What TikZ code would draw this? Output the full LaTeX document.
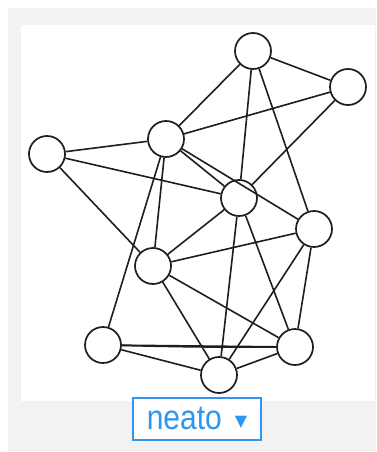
\documentclass[tikz,border=0pt]{standalone}
\usepackage{fontspec}
\setsansfont{Liberation Sans}
\newfontfamily\arrowfont{DejaVu Sans}
\usepackage{tikz}
\usetikzlibrary{positioning}
\definecolor{panelGray}{RGB}{242,242,242}
\definecolor{pickBlue}{RGB}{45,150,240}
\definecolor{edgeDark}{RGB}{30,30,30}

\begin{document}
\begin{tikzpicture}[
    x=1pt, y=-1pt,
    vertex/.style={circle, draw=edgeDark, line width=1.7pt, minimum size=36pt, inner sep=0pt},
    link/.style={draw=edgeDark, line width=1.6pt},
    picker/.style={rectangle, draw=pickBlue, line width=1.3pt, fill=white, minimum width=128pt, minimum height=42pt, inner sep=0pt, text=pickBlue, font=\sffamily\fontsize{30}{30}\selectfont}
]
    \useasboundingbox (0,0) rectangle (376,452);
    \fill[panelGray] (8,8) rectangle (376,451);
    \fill[white] (21,25) rectangle (375,401);

    \node[vertex] (top) at (253,51) {};
    \node[vertex] (topright) at (348,87) {};
    \node[vertex] (left) at (47,154) {};
    \node[vertex] (upper) at (166,139) {};
    \node[vertex] (hub) at (239,198) {};
    \node[vertex] (right) at (314,229) {};
    \node[vertex] (middle) at (153,266) {};
    \node[vertex] (lowleft) at (103,345) {};
    \node[vertex] (lowright) at (295,347) {};
    \node[vertex] (bottom) at (219,375) {};

    \draw[link] (top) -- (topright);
    \draw[link] (top) -- (upper);
    \draw[link] (top) -- (hub);
    \draw[link] (top) -- (right);
    \draw[link] (topright) -- (upper);
    \draw[link] (topright) -- (hub);
    \draw[link] (left) -- (upper);
    \draw[link] (left) -- (hub);
    \draw[link] (left) -- (middle);
    \draw[link] (upper) -- (hub);
    \draw[link] (upper) -- (right);
    \draw[link] (upper) -- (middle);
    \draw[link] (upper) -- (lowleft);
    \draw[link] (hub) -- (middle);
    \draw[link] (hub) -- (lowright);
    \draw[link] (hub) -- (bottom);
    \draw[link] (right) -- (middle);
    \draw[link] (right) -- (lowright);
    \draw[link] (right) -- (bottom);
    \draw[link] (middle) -- (lowright);
    \draw[link] (middle) -- (bottom);
    \draw[link] (lowleft) -- (lowright);
    \draw[link] (lowleft) to[bend right=0.8] (lowright);
    \draw[link] (lowleft) -- (bottom);
    \draw[link] (lowright) -- (bottom);

    \node[picker] (engine) at (197,419) {\scalebox{1}[1.15]{neato}\hspace{13pt}\raisebox{3.5pt}{\arrowfont\fontsize{16}{16}\selectfont ▼}};
\end{tikzpicture}
\end{document}
